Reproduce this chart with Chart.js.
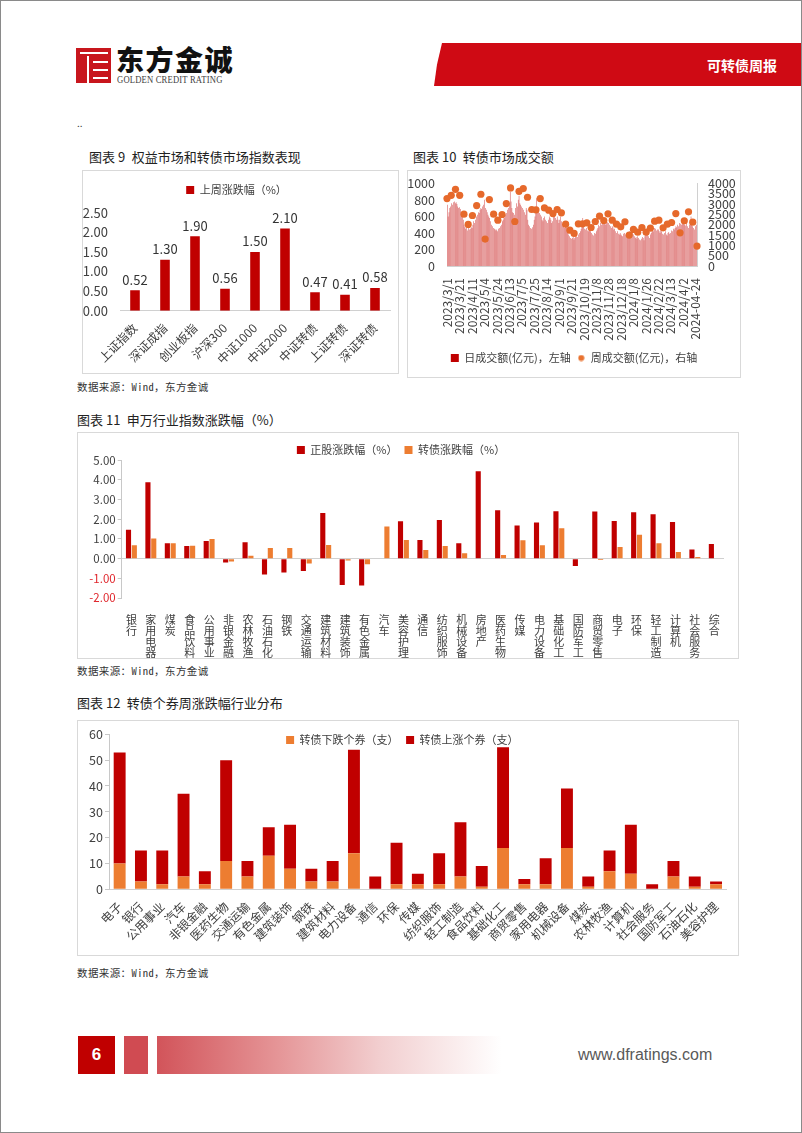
<!DOCTYPE html>
<html><head><meta charset="utf-8">
<script src="https://cdn.jsdelivr.net/npm/chart.js@4.4.1/dist/chart.umd.min.js"></script>
<style>
html,body{margin:0;padding:0;background:#fff;}
#page{position:relative;width:802px;height:1133px;overflow:hidden;font-family:"Noto Sans CJK SC","Noto Sans",sans-serif;background:#fff;}
.abs{position:absolute;}
.box{position:absolute;border:1px solid #d9d9d9;box-sizing:border-box;}
.title{position:absolute;font-size:13px;color:#222;line-height:16px;white-space:nowrap;}
.src{position:absolute;font-size:10.5px;color:#333;line-height:12px;letter-spacing:0.4px;font-family:"Noto Sans Mono CJK SC","Noto Sans CJK SC",monospace;white-space:nowrap;}
.cv{position:absolute;}
</style></head><body>
<div id="page">
  <!-- header -->
  <div class="abs" style="left:76px;top:48px;width:35px;height:35px;background:#c8161d;"></div>
  <div class="abs" style="left:80px;top:52px;width:28px;height:2px;background:#fff;"></div>
  <div class="abs" style="left:87px;top:56px;width:2px;height:27px;background:#fff;"></div>
  <div class="abs" style="left:93px;top:61px;width:15px;height:2px;background:#fff;"></div>
  <div class="abs" style="left:93px;top:69px;width:15px;height:2px;background:#fff;"></div>
  <div class="abs" style="left:93px;top:77px;width:15px;height:2px;background:#fff;"></div>
  <div class="abs" style="left:116px;top:42px;font-size:28px;font-weight:900;color:#111;letter-spacing:1.5px;line-height:34px;white-space:nowrap;">东方金诚</div>
  <div class="abs" style="left:117px;top:75px;font-size:10px;color:#444;line-height:10px;font-family:'Liberation Serif',serif;white-space:nowrap;transform:scaleX(0.86);transform-origin:left top;letter-spacing:0.2px;">GOLDEN CREDIT RATING</div>
  <div class="abs" style="left:434px;top:43px;width:368px;height:43px;background:#cf0a14;clip-path:polygon(8px 0,100% 0,100% 100%,0 100%,3px 50%);"></div>
  <div class="abs" style="left:707px;top:56px;font-size:14px;font-weight:700;color:#fff;line-height:18px;white-space:nowrap;">可转债周报</div>
  <div class="abs" style="left:77px;top:117px;font-size:10px;color:#333;line-height:12px;">..</div>

  <!-- chart 9 -->
  <div class="title" style="left:89px;top:149px;">图表 9&ensp;权益市场和转债市场指数表现</div>
  <div class="box" style="left:82px;top:170px;width:317px;height:204px;"></div>
  <div class="cv" style="left:83px;top:171px;width:315px;height:202px;"><canvas id="c9"></canvas></div>
  <div class="src" style="left:77px;top:381px;">数据来源：Wind，东方金诚</div>

  <!-- chart 10 -->
  <div class="title" style="left:413px;top:149px;">图表 10&ensp;转债市场成交额</div>
  <div class="box" style="left:407px;top:170px;width:334px;height:208px;"></div>
  <div class="cv" style="left:408px;top:171px;width:332px;height:206px;"><canvas id="c10"></canvas></div>

  <!-- chart 11 -->
  <div class="title" style="left:77px;top:412px;">图表 11&ensp;申万行业指数涨跌幅（%）</div>
  <div class="box" style="left:77px;top:432px;width:662px;height:227px;"></div>
  <div class="cv" style="left:78px;top:433px;width:660px;height:225px;"><canvas id="c11"></canvas></div>
  <div class="src" style="left:77px;top:665px;">数据来源：Wind，东方金诚</div>

  <!-- chart 12 -->
  <div class="title" style="left:77px;top:695px;">图表 12&ensp;转债个券周涨跌幅行业分布</div>
  <div class="box" style="left:77px;top:720px;width:662px;height:236px;"></div>
  <div class="cv" style="left:78px;top:721px;width:660px;height:234px;"><canvas id="c12"></canvas></div>
  <div class="src" style="left:77px;top:967px;">数据来源：Wind，东方金诚</div>

  <!-- footer -->
  <div class="abs" style="left:78px;top:1036px;width:37px;height:38px;background:#c00000;color:#fff;font-family:'Liberation Sans',Arial,sans-serif;font-weight:700;font-size:17px;line-height:38px;text-align:center;">6</div>
  <div class="abs" style="left:124px;top:1036px;width:24px;height:38px;background:#d04b52;"></div>
  <div class="abs" style="left:157px;top:1036px;width:345px;height:38px;background:linear-gradient(to right,#d2545a 0%,#e59597 35%,#f2cfd0 65%,#ffffff 100%);"></div>
  <div class="abs" style="left:578px;top:1045px;font-family:'Liberation Sans',Arial,sans-serif;font-size:16px;color:#595959;line-height:20px;white-space:nowrap;">www.dfratings.com</div>

  <div class="abs" style="left:0;top:0;width:802px;height:1133px;border:1px solid #8a8a8a;box-sizing:border-box;pointer-events:none;"></div>
</div>
<script>
// ---------- data ----------
const cats9 = ['上证指数','深证成指','创业板指','沪深300','中证1000','中证2000','中证转债','上证转债','深证转债'];
const vals9 = [0.52,1.30,1.90,0.56,1.50,2.10,0.47,0.41,0.58];

const tickLabels10 = ['2023/3/1','2023/3/21','2023/4/11','2023/5/4','2023/5/24','2023/6/13','2023/7/5','2023/7/25','2023/8/14','2023/9/1','2023/9/21','2023/10/19','2023/11/8','2023/11/28','2023/12/18','2024/1/8','2024/1/26','2024/2/22','2024/3/13','2024/4/2','2024-04-24'];
const daily10 = [
740,600,650,700,720,760,740,770,780,760,770,750,720,700,
710,690,650,600,560,500,470,450,460,430,480,440,450,470,
460,500,540,520,560,600,620,650,640,680,700,690,720,740,
800,700,680,650,620,600,580,540,500,480,460,450,440,430,
440,420,450,460,480,500,540,560,600,580,620,640,680,700,
760,900,780,700,650,640,620,700,760,720,800,850,760,740,
720,700,680,650,620,700,680,560,500,480,460,450,470,500,
560,600,650,820,700,680,640,620,600,560,540,580,600,560,
540,520,560,600,580,560,520,540,600,620,580,560,600,560,
520,560,600,540,500,480,460,480,500,470,440,380,360,340,
330,340,360,320,340,380,360,350,380,400,420,450,500,580,
480,450,440,460,430,420,440,460,420,400,380,370,400,390,
420,440,460,500,480,520,500,540,520,560,510,500,540,530,
520,500,480,460,480,470,440,450,420,400,420,390,380,400,
380,370,360,390,400,380,360,350,370,400,420,410,430,400,
380,360,340,350,330,360,340,320,310,330,350,340,310,360,
380,400,380,360,340,380,400,420,440,420,460,450,430,440,
440,420,400,430,420,390,380,400,420,380,370,400,410,390,
400,430,420,450,440,460,480,470,500,480,520,510,500,540,
570,520,500,490,520,480,460,500,540,600,520,480,460,440,
480,500];
const weekly10 = [3260,3420,3710,3420,2506,2010,2443,2925,3470,1300,3214,2506,2217,2490,3020,3775,2153,3614,3743,3325,
2732,2717,3260,2810,2700,2538,2732,2570,2024,1735,1574,2040,2040,2088,1863,2153,2410,2200,2522,2217,
2024,1895,2137,1494,1767,1638,1863,1638,1830,2169,2217,1847,2024,2104,2538,1606,2185,2619,2120,964];

const cats11 = ['银行','家用电器','煤炭','食品饮料','公用事业','非银金融','农林牧渔','石油石化','钢铁','交通运输','建筑材料','建筑装饰','有色金属','汽车','美容护理','通信','纺织服饰','机械设备','房地产','医药生物','传媒','电力设备','基础化工','国防军工','商贸零售','电子','环保','轻工制造','计算机','社会服务','综合'];
const stock11 = [1.47,3.88,0.78,0.64,0.90,-0.19,0.83,-0.80,-0.71,-0.63,2.32,-1.34,-1.36,0.00,1.90,0.95,1.96,0.78,4.44,2.46,1.69,1.84,2.41,-0.37,2.40,1.91,2.36,2.26,1.86,0.47,0.74];
const bond11 = [0.68,1.03,0.78,0.66,1.00,-0.15,0.15,0.54,0.54,-0.25,0.69,-0.10,-0.29,1.63,0.95,0.44,0.64,0.27,0.00,0.19,0.93,0.68,1.55,-0.03,-0.07,0.59,1.22,0.78,0.34,0.08,0.00];

const cats12 = ['电子','银行','公用事业','汽车','非银金融','医药生物','交通运输','有色金属','建筑装饰','钢铁','建筑材料','电力设备','通信','环保','传媒','纺织服饰','轻工制造','食品饮料','基础化工','商贸零售','家用电器','机械设备','煤炭','农林牧渔','计算机','社会服务','国防军工','石油石化','美容护理'];
const down12 = [10,3,2,5,2,11,5,13,8,3,3,14,0,2,2,2,5,1,16,2,2,16,1,7,6,0,5,1,2];
const up12 =   [43,12,13,32,5,39,6,11,17,5,8,40,5,16,4,12,21,8,39,2,10,23,4,8,19,2,6,4,1];

// ---------- common ----------
Chart.defaults.font.family = '"Noto Sans CJK SC","Noto Sans",sans-serif';
Chart.defaults.color = '#404040';
Chart.defaults.animation = false;
const RED = '#c00000', ORANGE = '#ed7d31', AXIS = '#d0d0d0';

const legendHeightFix = {
  id: 'legendHeightFix',
  beforeLayout(chart, args, opts) {
    const lg = chart.legend;
    if (!lg || lg._fixPatched || opts.height == null) return;
    const orig = lg.fit;
    const h = opts.height;
    lg.fit = function () { orig.call(this); this.height = h; };
    if (opts.noClip) {
      lg.draw = function () { if (this.options.display) this._draw(); };
    }
    lg._fixPatched = true;
  }
};
const fixW = w => (s => { s.width = w; });
const fixH = h => (s => { s.height = h; });
const legendLabels = { boxWidth: 8, boxHeight: 8, font: { size: 11 }, color: '#404040' };

// ---------- chart 9 ----------
const barValueLabels = {
  id: 'barValueLabels',
  afterDatasetsDraw(chart) {
    const ctx = chart.ctx, meta = chart.getDatasetMeta(0), d = chart.data.datasets[0].data;
    ctx.save();
    ctx.font = '13px "Noto Sans CJK SC","Noto Sans",sans-serif';
    ctx.fillStyle = '#333';
    ctx.textAlign = 'center';
    ctx.textBaseline = 'bottom';
    meta.data.forEach((bar, i) => ctx.fillText(d[i].toFixed(2), bar.x, bar.y - 4));
    ctx.restore();
  }
};
new Chart(document.getElementById('c9'), {
  type: 'bar',
  data: { labels: cats9, datasets: [{ label: '上周涨跌幅（%）', data: vals9, backgroundColor: RED, categoryPercentage: 0.8, barPercentage: 0.4 }] },
  options: {
    responsive: true, maintainAspectRatio: false,
    layout: { padding: { top: 6, right: 8, bottom: 0, left: 0 } },
    plugins: {
      legend: { position: 'top', labels: Object.assign({}, legendLabels, { padding: 7.5 }) },
      legendHeightFix: { height: 35.7 },
      tooltip: { enabled: false }
    },
    scales: {
      x: { grid: { display: false }, border: { display: true, color: AXIS },
           ticks: { autoSkip: false, minRotation: 45, maxRotation: 45, font: { size: 12 }, padding: 2 }, afterFit: fixH(62.3) },
      y: { min: 0, max: 2.5, grid: { display: false }, border: { display: false },
           ticks: { autoSkip: false, stepSize: 0.5, callback: v => v.toFixed(2), font: { size: 13 }, padding: 4 }, afterFit: fixW(37) }
    }
  },
  plugins: [legendHeightFix, barValueLabels]
});

// ---------- chart 10 ----------
const dailyLabels10 = daily10.map((v, i) => (i % 14 === 0 && tickLabels10[i / 14]) ? tickLabels10[i / 14] : '');
const weekNames10 = weekly10.map((v, i) => 'W' + (i + 1));
const dotMarker = document.createElement('canvas');
dotMarker.width = 7; dotMarker.height = 7;
(() => { const c = dotMarker.getContext('2d'); c.fillStyle = '#e8722f'; c.beginPath(); c.arc(3.5, 3.5, 3, 0, Math.PI * 2); c.fill(); })();
new Chart(document.getElementById('c10'), {
  type: 'bar',
  data: {
    labels: dailyLabels10,
    datasets: [
      { type: 'bar', label: '日成交额(亿元)，左轴', data: daily10, backgroundColor: RED, borderWidth: 0,
        categoryPercentage: 1, barPercentage: 0.85, yAxisID: 'y', xAxisID: 'x', order: 1 },
      { type: 'line', label: '周成交额(亿元)，右轴', data: weekly10, showLine: false, pointRadius: 3.6,
        pointBackgroundColor: '#e6692b', pointBorderWidth: 0, borderColor: '#e6692b', yAxisID: 'y1', xAxisID: 'xw', order: 0 }
    ]
  },
  options: {
    responsive: true, maintainAspectRatio: false,
    layout: { padding: { top: 12.3, right: 0, bottom: 0, left: 0 } },
    plugins: {
      legend: { position: 'bottom',
        labels: Object.assign({}, legendLabels, { usePointStyle: true, padding: 6.5,
          sort: (a, b) => a.datasetIndex - b.datasetIndex,
          generateLabels(chart) {
            const items = Chart.defaults.plugins.legend.labels.generateLabels(chart);
            items.forEach(it => { it.pointStyle = it.datasetIndex === 0 ? 'rect' : dotMarker; if (it.datasetIndex === 0) { it.fillStyle = RED; it.strokeStyle = RED; } });
            return items;
          } }) },
      legendHeightFix: { height: 31 },
      tooltip: { enabled: false }
    },
    scales: {
      x: { grid: { display: false }, border: { display: true, color: AXIS },
           ticks: { autoSkip: false, minRotation: 90, maxRotation: 90, font: { size: 12 }, padding: 4 }, afterFit: fixH(80) },
      xw: { type: 'category', labels: weekNames10, offset: false, display: false, grid: { display: false } },
      y: { position: 'left', min: 0, max: 1000, grid: { display: false }, border: { display: false },
           ticks: { autoSkip: false, stepSize: 200, font: { size: 12.5 }, padding: 4, callback: v => String(v) }, afterFit: fixW(39) },
      y1: { position: 'right', min: 0, max: 4000, grid: { display: false, drawOnChartArea: false }, border: { display: true, color: AXIS },
            ticks: { autoSkip: false, stepSize: 500, font: { size: 12.5 }, padding: 3, callback: v => String(v) }, afterFit: fixW(43) }
    }
  },
  plugins: [legendHeightFix]
});

// ---------- chart 11 ----------
new Chart(document.getElementById('c11'), {
  type: 'bar',
  data: {
    labels: cats11,
    datasets: [
      { label: '正股涨跌幅（%）', data: stock11, backgroundColor: RED, categoryPercentage: 0.6, barPercentage: 0.88 },
      { label: '转债涨跌幅（%）', data: bond11, backgroundColor: ORANGE, categoryPercentage: 0.6, barPercentage: 0.88 }
    ]
  },
  options: {
    responsive: true, maintainAspectRatio: false,
    layout: { padding: { top: 4.5, right: 14, bottom: 0, left: 0 } },
    plugins: {
      legend: { position: 'top', labels: Object.assign({}, legendLabels, { padding: 7 }) },
      legendHeightFix: { height: 22.8 },
      tooltip: { enabled: false }
    },
    scales: {
      x: { grid: { display: false }, border: { display: false },
           ticks: { autoSkip: false, maxRotation: 0, minRotation: 0, padding: 8,
                    font: { size: 11, lineHeight: 1.0 }, callback: (v, i) => cats11[i].split('') },
           afterFit: fixH(60) },
      y: { min: -2, max: 5,
           grid: { drawOnChartArea: true, color: c => (c.tick && c.tick.value === 0) ? AXIS : 'rgba(0,0,0,0)', tickColor: '#c8c8c8', tickLength: 4 },
           border: { display: true, color: '#c8c8c8' },
           ticks: { autoSkip: false, stepSize: 1, callback: v => v.toFixed(2), font: { size: 11.5 }, padding: 2,
                    color: c => c.tick.value < 0 ? '#e0262c' : '#404040' },
           afterFit: fixW(43.7) }
    }
  },
  plugins: [legendHeightFix]
});

// ---------- chart 12 ----------
new Chart(document.getElementById('c12'), {
  type: 'bar',
  data: {
    labels: cats12,
    datasets: [
      { label: '转债下跌个券（支）', data: down12, backgroundColor: ORANGE, categoryPercentage: 0.8, barPercentage: 0.7 },
      { label: '转债上涨个券（支）', data: up12, backgroundColor: RED, categoryPercentage: 0.8, barPercentage: 0.7 }
    ]
  },
  options: {
    responsive: true, maintainAspectRatio: false,
    layout: { padding: { top: 6, right: 11.3, bottom: 0, left: 0 } },
    plugins: {
      legend: { position: 'top', labels: Object.assign({}, legendLabels, { padding: 7.5 }) },
      legendHeightFix: { height: 7.3, noClip: true },
      tooltip: { enabled: false }
    },
    scales: {
      x: { stacked: true, grid: { display: false }, border: { display: true, color: AXIS },
           ticks: { autoSkip: false, minRotation: 45, maxRotation: 45, font: { size: 12 }, padding: 2 }, afterFit: fixH(65.7) },
      y: { stacked: true, min: 0, max: 60,
           grid: { drawOnChartArea: false, tickColor: '#c8c8c8', tickLength: 4 }, border: { display: true, color: '#c8c8c8' },
           ticks: { autoSkip: false, stepSize: 10, font: { size: 12.5 }, padding: 2 }, afterFit: fixW(31) }
    }
  },
  plugins: [legendHeightFix]
});
</script>
</body></html>
